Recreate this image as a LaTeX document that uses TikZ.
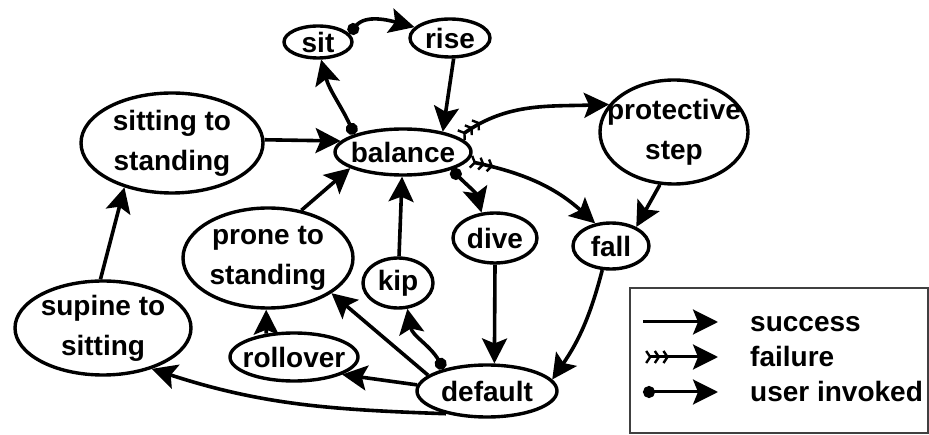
\documentclass[tikz,border=0pt]{standalone}
\usepackage{fontspec}
\setmainfont{Liberation Sans}
\usetikzlibrary{arrows.meta,shapes.geometric}
\begin{document}
\begin{tikzpicture}[x=1pt,y=1pt,
  st/.style={draw, ellipse, line width=3.4pt, inner sep=0pt},
  lab/.style={font=\fontsize{28}{40}\selectfont\bfseries, align=center, inner sep=0pt},
  edge/.style={line width=3.6pt, arrows={-Stealth[length=25pt,width=25pt,inset=5pt]}},
  fail/.style={line width=3.6pt, arrows={{Straight Barb[reversed,length=4pt,width=12pt,line width=2.4pt,sep=2pt] Straight Barb[reversed,length=4pt,width=12pt,line width=2.4pt,sep=2pt] Straight Barb[reversed,length=4pt,width=12pt,line width=2.4pt,sep=2pt]}-Stealth[length=25pt,width=25pt,inset=5pt]}},
  user/.style={line width=3.6pt, arrows={Circle[length=12pt]-Stealth[length=25pt,width=25pt,inset=5pt]}}
]
\useasboundingbox (0,0) rectangle (929,-435);

% nodes
\node[st, minimum width=68pt, minimum height=32pt, label={[lab]center:sit}] (sit) at (318,-42) {};
\node[st, minimum width=80pt, minimum height=38pt, label={[lab]center:rise}] (rise) at (450,-38) {};
\node[st, minimum width=136pt, minimum height=46pt, label={[lab]center:balance}] (balance) at (403,-152) {};
\node[st, minimum width=182pt, minimum height=100pt, label={[lab]center:sitting to\\standing}] (sitting) at (172,-143) {};
\node[st, minimum width=148pt, minimum height=104pt, label={[lab]center:protective\\step}] (protective) at (674,-132) {};
\node[st, minimum width=84pt, minimum height=50pt, label={[lab]center:dive}] (dive) at (495,-238) {};
\node[st, minimum width=76pt, minimum height=46pt, label={[lab]center:fall}] (fall) at (611,-246) {};
\node[st, minimum width=170pt, minimum height=100pt, label={[lab]center:prone to\\standing}] (prone) at (268,-258) {};
\node[st, minimum width=70pt, minimum height=50pt, label={[lab]center:kip}] (kip) at (398,-283) {};
\node[st, minimum width=128pt, minimum height=48pt, label={[lab]center:rollover}] (rollover) at (294,-357) {};
\node[st, minimum width=140pt, minimum height=52pt, label={[lab]center:default}] (default) at (487,-391) {};
\node[st, minimum width=176pt, minimum height=94pt, label={[lab]center:supine to\\sitting}] (supine) at (103,-328) {};

% connectors
\draw[user] (sit.15) to[out=50,in=165] (rise.163);
\draw[user] (balance.160) to[out=115,in=-75] (sit.-80);
\draw[edge] (rise.-80) -- (balance.27);
\draw[fail] (balance.15) to[out=35,in=182] (protective.157);
\draw[fail] (balance.-8) to[out=-12,in=138] (fall.125);
\draw[user] (balance.-20) to[out=-45,in=105] (dive.118);
\draw[edge] (sitting.2) -- (balance.170);
\draw[edge] (prone.55) -- (balance.197);
\draw[edge] (kip) -- (balance);
\draw[edge] (protective.-105) -- (fall.37);
\draw[edge] (dive.-90) -- (default.75);
\draw[edge] (fall.-110) to[bend left=10] (default.10);
\draw[user] (default.153) to[out=120,in=-80] (kip.-70);
\draw[edge] (default.165) -- (prone.-29);
\draw[edge] (default.175) -- (rollover.-20);
\draw[edge] (rollover.140) -- (prone.-92);
\draw[edge] (default.209) to[out=178,in=-18] (supine.-40);
\draw[edge] (supine.93) -- (sitting.-137);

% legend
\draw[black!75, line width=1.6pt] (630,-288) rectangle (928,-433);
\coordinate (s1) at (643,-322); \coordinate (s2) at (718,-322);
\coordinate (f1) at (643,-357); \coordinate (f2) at (718,-357);
\coordinate (u1) at (643,-392); \coordinate (u2) at (718,-392);
\draw[edge, line width=3pt] (s1) -- (s2);
\draw[fail, line width=3pt] (f1) -- (f2);
\draw[user, line width=3pt] (u1) -- (u2);
\node[lab, anchor=base west] (lsucc) at (750,-332) {success};
\node[lab, anchor=base west] (lfail) at (750,-367) {failure};
\node[lab, anchor=base west] (luser) at (750,-402) {user invoked};
\end{tikzpicture}
\end{document}
